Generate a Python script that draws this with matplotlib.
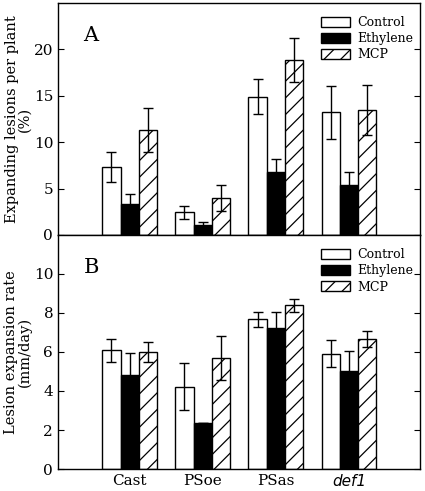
import numpy as np
import matplotlib
matplotlib.use('Agg')
import matplotlib.pyplot as plt

# Data
groups = ['Cast', 'PSoe', 'PSas', 'def1']
treatments = ['Control', 'Ethylene', 'MCP']

# A: expanding lesions per plant (%)
lesions_mean = [[7.35, 2.43, 14.9, 13.2],
                [3.37, 1.04, 6.78, 5.36],
                [11.3, 4.0, 18.85, 13.43]]
lesions_err = [[1.6, 0.66, 1.9, 2.85],
               [1.0, 0.4, 1.38, 1.42],
               [2.36, 1.4, 2.42, 2.68]]

# B: lesion expansion rate (mm/day)
rate_mean = [[6.08, 4.22, 7.67, 5.92],
             [4.8, 2.37, 7.24, 5.03],
             [6.01, 5.69, 8.4, 6.69]]
rate_err = [[0.58, 1.2, 0.4, 0.67],
            [1.13, 0.0, 0.79, 1.0],
            [0.5, 1.12, 0.33, 0.41]]

plt.rcParams['font.family'] = 'DejaVu Serif'
plt.rcParams['hatch.linewidth'] = 0.9

fig = plt.figure(figsize=(4.25, 4.91), dpi=100)
ax1 = fig.add_axes([0.1365, 0.5214, 0.8515, 0.4726])
ax2 = fig.add_axes([0.1365, 0.0448, 0.8515, 0.4766])

x = np.arange(1, len(groups) + 1)
w = 0.25
faces = ['white', 'black', 'white']
hatches = [None, None, '//']


def draw(ax, means, errs):
	for k in range(3):
		pos = x + (k - 1) * w
		ax.bar(pos, means[k], w, color=faces[k], edgecolor='black', linewidth=1.0,
		       hatch=hatches[k], label=treatments[k], zorder=2)
		ax.errorbar(pos, means[k], yerr=errs[k], fmt='none', ecolor='black',
		            elinewidth=1.0, capsize=3.5, capthick=1.0, zorder=3)
	ax.set_xlim(0.02, 4.97)
	ax.tick_params(axis='y', direction='in', right=True, length=4, labelsize=11)
	ax.tick_params(axis='x', length=0, labelsize=11)
	for s in ax.spines.values():
		s.set_linewidth(1.0)
	ax.legend(loc='upper right', frameon=False, fontsize=9, handlelength=2.3,
	          handleheight=0.85, labelspacing=0.25, handletextpad=0.65,
	          borderaxespad=0.0, borderpad=0.5, bbox_to_anchor=(1.0, 0.97))


draw(ax1, lesions_mean, lesions_err)
ax1.set_ylim(0, 25)
ax1.set_yticks([0, 5, 10, 15, 20])
ax1.set_xticks([])
ax1.set_ylabel('Expanding lesions per plant\n(%)', fontsize=10.5, linespacing=0.95)
ax1.yaxis.set_label_coords(-0.072, 0.5)
ax1.text(0.07, 0.86, 'A', transform=ax1.transAxes, fontsize=15, va='center', ha='left')

draw(ax2, rate_mean, rate_err)
ax2.set_ylim(0, 12)
ax2.set_yticks([0, 2, 4, 6, 8, 10])
ax2.set_xticks(x)
ax2.set_xticklabels(groups)
ax2.get_xticklabels()[3].set_fontstyle('italic')
ax2.get_xticklabels()[3].set_family('DejaVu Sans')
ax2.set_ylabel('Lesion expansion rate\n(mm/day)', fontsize=10.5, linespacing=0.95)
ax2.yaxis.set_label_coords(-0.072, 0.5)
ax2.text(0.07, 0.86, 'B', transform=ax2.transAxes, fontsize=15, va='center', ha='left')

fig.savefig('out.png', dpi=100)
